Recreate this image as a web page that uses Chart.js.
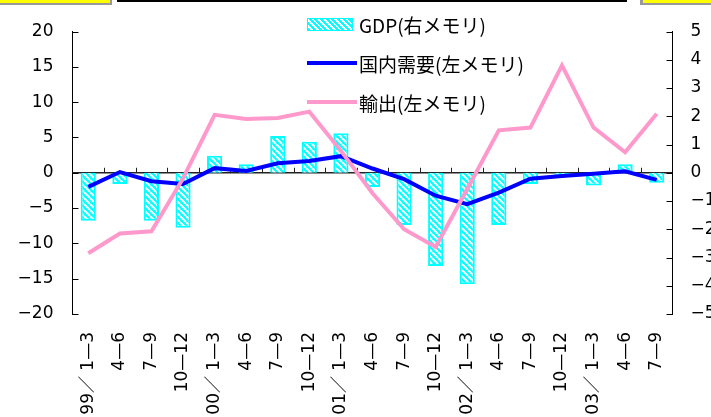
<!DOCTYPE html>
<html>
<head>
<meta charset="utf-8">
<script src="https://cdn.jsdelivr.net/npm/chart.js@4.4.1/dist/chart.umd.min.js"></script>
<style>
  body { margin: 0; background: #fff; }
  #wrap { position: relative; width: 711px; height: 417px; overflow: hidden; }
  .deco { position: absolute; }
  .legend-item { position: absolute; left: 307px; height: 24px; display: flex; align-items: center;
    font-family: "Noto Sans CJK JP", sans-serif; font-size: 19px; color: #000; white-space: nowrap; }
  .swatch-bar { width: 44px; height: 11px; border: 1px solid #00ffff;
    background: repeating-linear-gradient(45deg, #00ffff 0 2px, #fff 2px 4px); margin-right: 6px; }
  .swatch-line { width: 50px; height: 4px; margin-right: 2px; }
</style>
</head>
<body>
<div id="wrap">
  <canvas id="chart" width="711" height="417"></canvas>
  <div class="deco" style="left:0;top:0;width:110px;height:3px;background:#ffff00;border-right:2px solid #999;border-bottom:2px solid #999;"></div>
  <div class="deco" style="left:117px;top:0;width:510px;height:2px;background:#000;"></div>
  <div class="deco" style="left:640px;top:0;width:71px;height:3px;background:#ffff00;border-left:3px solid #999;border-bottom:2px solid #999;"></div>
  <div class="legend-item" style="top:12px;"><span class="swatch-bar"></span>GDP(右メモリ)</div>
  <div class="legend-item" style="top:51px;"><span class="swatch-line" style="background:#0000ff;"></span>国内需要(左メモリ)</div>
  <div class="legend-item" style="top:90px;"><span class="swatch-line" style="background:#ff99cc;"></span>輸出(左メモリ)</div>
</div>
<script>
const quarters = ["99／ 1—3", "4—6", "7—9", "10—12", "00／ 1—3", "4—6", "7—9", "10—12",
  "01／ 1—3", "4—6", "7—9", "10—12", "02／ 1—3", "4—6", "7—9", "10—12", "03／ 1—3", "4—6", "7—9"];
// GDP, right axis
const gdp = [-1.7, -0.4, -1.7, -1.95, 0.6, 0.3, 1.3, 1.1, 1.4, -0.5, -1.85, -3.3, -3.95, -1.85, -0.4, -0.1, -0.45, 0.3, -0.35];
// domestic demand, left axis
const domestic = [-2.0, 0.1, -1.2, -1.6, 0.65, 0.25, 1.35, 1.65, 2.35, 0.6, -0.9, -3.25, -4.45, -2.8, -0.85, -0.45, -0.15, 0.2, -1.0];
// exports, left axis
const exports = [-11.4, -8.6, -8.3, -0.8, 8.2, 7.6, 7.75, 8.65, 3.1, -2.9, -8.0, -10.5, -2.3, 6.0, 6.4, 15.2, 6.4, 2.9, 8.35];

const minus = (v) => String(v).replace("-", "−");

const makeHatch = () => {
  const c = document.createElement("canvas");
  c.width = c.height = 6;
  const g = c.getContext("2d");
  g.fillStyle = "#00ffff";
  g.fillRect(0, 0, 6, 6);
  g.strokeStyle = "#ffffff";
  g.lineWidth = 2;
  [-6, 0, 6].forEach((k) => {
    g.beginPath();
    g.moveTo(k, 0);
    g.lineTo(k + 6, 6);
    g.stroke();
  });
  return g.createPattern(c, "repeat");
};

// zero axis line with category ticks, plus inward ticks on both value axes
const axisPlugin = {
  id: "axisDecor",
  beforeDatasetsDraw(chart) {
    const { ctx, chartArea, scales } = chart;
    const x = scales.x, y = scales.y, y2 = scales.y2;
    const y0 = y.getPixelForValue(0);
    ctx.save();
    ctx.strokeStyle = "#222";
    ctx.lineWidth = 1.5;
    ctx.beginPath();
    ctx.moveTo(chartArea.left, y0);
    ctx.lineTo(chartArea.right, y0);
    ctx.stroke();
    ctx.lineWidth = 1;
    const step = (chartArea.right - chartArea.left) / quarters.length;
    for (let i = 1; i < quarters.length; i++) {
      const px = Math.round(x.getPixelForValue(i) - step / 2) + 0.5;
      ctx.beginPath();
      ctx.moveTo(px, y0);
      ctx.lineTo(px, y0 - 5);
      ctx.stroke();
    }
    ctx.strokeStyle = "#000";
    y.ticks.forEach((t) => {
      const py = Math.round(y.getPixelForValue(t.value)) + 0.5;
      ctx.beginPath();
      ctx.moveTo(chartArea.left, py);
      ctx.lineTo(chartArea.left + 6, py);
      ctx.stroke();
    });
    y2.ticks.forEach((t) => {
      const py = Math.round(y2.getPixelForValue(t.value)) + 0.5;
      ctx.beginPath();
      ctx.moveTo(chartArea.right, py);
      ctx.lineTo(chartArea.right - 6, py);
      ctx.stroke();
    });
    ctx.restore();
  },
};

const tickFont = { family: "DejaVu Sans", size: 17 };

new Chart(document.getElementById("chart"), {
  type: "bar",
  data: {
    labels: quarters,
    datasets: [
      {
        type: "line",
        label: "輸出(左メモリ)",
        data: exports,
        yAxisID: "y",
        borderColor: "#ff99cc",
        borderWidth: 4,
        pointRadius: 0,
        tension: 0,
        order: 1,
      },
      {
        type: "line",
        label: "国内需要(左メモリ)",
        data: domestic,
        yAxisID: "y",
        borderColor: "#0000ff",
        borderWidth: 4,
        pointRadius: 0,
        tension: 0,
        order: 2,
      },
      {
        type: "bar",
        label: "GDP(右メモリ)",
        data: gdp,
        yAxisID: "y2",
        backgroundColor: makeHatch(),
        borderColor: "#00ffff",
        borderWidth: 2,
        borderSkipped: "start",
        categoryPercentage: 1,
        barPercentage: 0.48,
        order: 3,
      },
    ],
  },
  options: {
    responsive: false,
    animation: false,
    layout: { padding: { top: 31.5, left: 0, right: 0, bottom: 0 } },
    plugins: { legend: { display: false }, tooltip: { enabled: false } },
    scales: {
      x: {
        grid: { display: false, drawTicks: false },
        border: { display: false },
        ticks: {
          autoSkip: false,
          minRotation: 90,
          maxRotation: 90,
          padding: 18,
          color: "#000",
          font: { family: "DejaVu Sans, Noto Sans CJK JP", size: 17 },
        },
        afterFit: (s) => { s.height = 103; },
      },
      y: {
        position: "left",
        min: -20,
        max: 20,
        grid: { display: false, drawTicks: false },
        border: { display: true, color: "#000", width: 1 },
        ticks: { stepSize: 5, padding: 19, color: "#000", font: tickFont, callback: (v) => minus(v) },
        afterFit: (s) => { s.width = 72.5; },
      },
      y2: {
        position: "right",
        min: -5,
        max: 5,
        grid: { display: false, drawTicks: false },
        border: { display: true, color: "#000", width: 1 },
        ticks: { stepSize: 1, padding: 18, color: "#000", font: tickFont, callback: (v) => minus(v) },
        afterFit: (s) => { s.width = 38.5; },
      },
    },
  },
  plugins: [axisPlugin],
});
</script>
</body>
</html>
